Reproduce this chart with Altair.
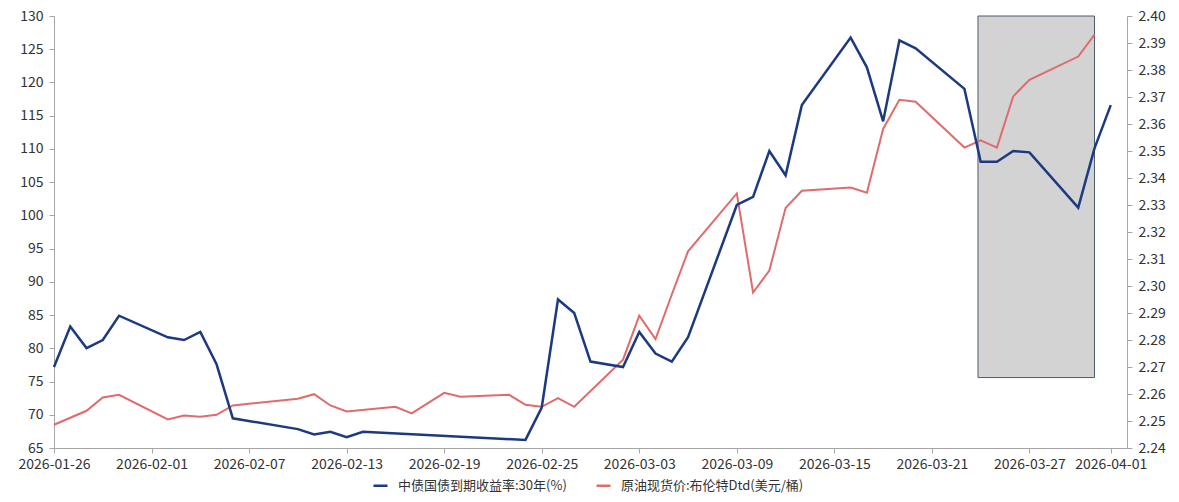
import altair as alt
import pandas as pd

BLUE_NAME = "中债国债到期收益率:30年(%)"
RED_NAME = "原油现货价:布伦特Dtd(美元/桶)"

yield_dates = [
    "2026-01-26", "2026-01-27", "2026-01-28", "2026-01-29", "2026-01-30",
    "2026-02-02", "2026-02-03", "2026-02-04", "2026-02-05", "2026-02-06",
    "2026-02-10", "2026-02-11", "2026-02-12", "2026-02-13", "2026-02-14",
    "2026-02-24", "2026-02-25", "2026-02-26", "2026-02-27", "2026-02-28",
    "2026-03-02", "2026-03-03", "2026-03-04", "2026-03-05", "2026-03-06",
    "2026-03-09", "2026-03-10", "2026-03-11", "2026-03-12", "2026-03-13",
    "2026-03-16", "2026-03-17", "2026-03-18", "2026-03-19", "2026-03-20",
    "2026-03-23", "2026-03-24", "2026-03-25", "2026-03-26", "2026-03-27",
    "2026-03-30", "2026-03-31", "2026-04-01",
]
yield_values = [
    2.270, 2.285, 2.277, 2.280, 2.289,
    2.281, 2.280, 2.283, 2.271, 2.251,
    2.247, 2.245, 2.246, 2.244, 2.246,
    2.243, 2.255, 2.295, 2.290, 2.272,
    2.270, 2.283, 2.275, 2.272, 2.281,
    2.330, 2.333, 2.350, 2.341, 2.367,
    2.392, 2.381, 2.361, 2.391, 2.388,
    2.373, 2.346, 2.346, 2.350, 2.3495,
    2.329, 2.351, 2.367,
]

oil_dates = [
    "2026-01-26", "2026-01-28", "2026-01-29", "2026-01-30",
    "2026-02-02", "2026-02-03", "2026-02-04", "2026-02-05", "2026-02-06",
    "2026-02-10", "2026-02-11", "2026-02-12", "2026-02-13",
    "2026-02-16", "2026-02-17", "2026-02-19", "2026-02-20",
    "2026-02-23", "2026-02-24", "2026-02-25", "2026-02-26", "2026-02-27",
    "2026-03-02", "2026-03-03", "2026-03-04", "2026-03-05", "2026-03-06",
    "2026-03-09", "2026-03-10", "2026-03-11", "2026-03-12", "2026-03-13",
    "2026-03-16", "2026-03-17", "2026-03-18", "2026-03-19", "2026-03-20",
    "2026-03-23", "2026-03-24", "2026-03-25", "2026-03-26", "2026-03-27",
    "2026-03-30", "2026-03-31",
]
oil_values = [
    68.5, 70.6, 72.6, 73.0,
    69.3, 69.9, 69.7, 70.0, 71.4,
    72.4, 73.1, 71.4, 70.5,
    71.2, 70.2, 73.3, 72.7,
    73.0, 71.5, 71.2, 72.5, 71.2,
    78.3, 84.9, 81.4, 88.1, 94.6,
    103.3, 88.4, 91.7, 101.1, 103.7,
    104.2, 103.4, 113.0, 117.4, 117.1,
    110.2, 111.3, 110.2, 117.9, 120.4,
    123.9, 127.2,
]

x_tick_dates = [
    (2026, 1, 26), (2026, 2, 1), (2026, 2, 7), (2026, 2, 13), (2026, 2, 19),
    (2026, 2, 25), (2026, 3, 3), (2026, 3, 9), (2026, 3, 15), (2026, 3, 21),
    (2026, 3, 27), (2026, 4, 1),
]
left_ticks = [65, 70, 75, 80, 85, 90, 95, 100, 105, 110, 115, 120, 125, 130]
right_ticks = [round(2.24 + 0.01 * i, 2) for i in range(17)]

shade_start = ["2026-03-23T20:00:00Z"]
shade_end = ["2026-03-31T00:00:00Z"]
shade_low = [75.6]
shade_high = [130]

BLUE = "#1c3a80"
RED = "#e06b6b"
FONT = "Noto Sans CJK SC"
AXIS_GRAY = "#a6a6a6"
LABEL = "#333333"

df_yield = pd.DataFrame({"date": yield_dates, "value": yield_values, "series": BLUE_NAME})
df_oil = pd.DataFrame({"date": oil_dates, "value": oil_values, "series": RED_NAME})
df_rect = pd.DataFrame({"start": shade_start, "end": shade_end, "lo": shade_low, "hi": shade_high})

x_scale = alt.Scale(
    type="utc",
    domain=[alt.DateTime(year=2026, month=1, date=26, utc=True),
            alt.DateTime(year=2026, month=4, date=2, utc=True)],
)
x_axis = alt.Axis(
    values=[alt.DateTime(year=y, month=m, date=d, utc=True) for (y, m, d) in x_tick_dates],
    labelExpr="utcFormat(datum.value, '%Y-%m-%d')", title=None, grid=False,
    labelFont=FONT, labelFontSize=14, labelColor=LABEL, labelPadding=4,
    domainColor=AXIS_GRAY, tickColor=AXIS_GRAY, tickSize=5, labelAngle=0,
    labelFlush=False, labelOverlap=False,
)

color_scale = alt.Scale(domain=[BLUE_NAME, RED_NAME], range=[BLUE, RED])
legend = alt.Legend(
    title=None, orient="none", direction="horizontal", legendX=318, legendY=461,
    symbolType="stroke", symbolSize=196, symbolStrokeWidth=2.5,
    labelFont=FONT, labelFontSize=13, labelColor=LABEL, labelLimit=400,
    columnPadding=24, labelOffset=9,
)

rect = alt.Chart(df_rect).mark_rect(fill="#d3d3d3", stroke="#4d5b70", strokeWidth=1).encode(
    x=alt.X("start:T", scale=x_scale, axis=x_axis),
    x2="end:T",
    y=alt.Y("lo:Q", scale=alt.Scale(domain=[65, 130], nice=False, zero=False), axis=None),
    y2="hi:Q",
)

oil_line = alt.Chart(df_oil).mark_line(strokeWidth=2).encode(
    x=alt.X("date:T", scale=x_scale, axis=x_axis),
    y=alt.Y("value:Q", scale=alt.Scale(domain=[65, 130], nice=False, zero=False),
            axis=alt.Axis(values=left_ticks, orient="left", title=None, grid=False,
                          labelFont=FONT, labelFontSize=14, labelColor=LABEL, labelPadding=6,
                          domainColor=AXIS_GRAY, tickColor=AXIS_GRAY, tickSize=5)),
    color=alt.Color("series:N", scale=color_scale, legend=legend),
)

yield_line = alt.Chart(df_yield).mark_line(strokeWidth=2.5).encode(
    x=alt.X("date:T", scale=x_scale, axis=x_axis),
    y=alt.Y("value:Q", scale=alt.Scale(domain=[2.24, 2.40], nice=False, zero=False),
            axis=alt.Axis(values=right_ticks, orient="right", format=".2f", title=None, grid=False,
                          labelFont=FONT, labelFontSize=14, labelColor=LABEL, labelPadding=6,
                          domainColor=AXIS_GRAY, tickColor=AXIS_GRAY, tickSize=5)),
    color=alt.Color("series:N", scale=color_scale, legend=legend),
)

chart = alt.layer(rect, oil_line, yield_line).resolve_scale(y="independent").properties(
    width=1073, height=432,
    autosize=alt.AutoSizeParams(type="none"),
    padding={"left": 46, "top": 8, "right": 44, "bottom": 46},
    background="white",
).configure_view(stroke=None)

chart.save("out.html", embed_options={"renderer": "svg", "actions": False})
